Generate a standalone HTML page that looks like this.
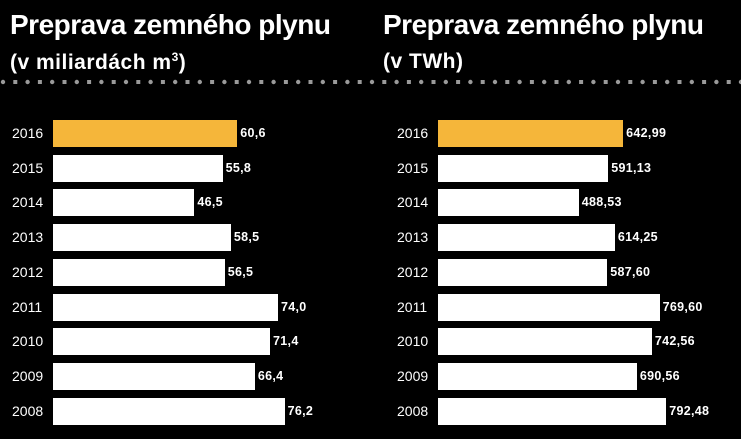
<!DOCTYPE html><html><head><style>
body{margin:0;width:741px;height:439px;background:#000;overflow:hidden;font-family:"Liberation Sans",sans-serif;color:#fff;position:relative}
.t{position:absolute;font-weight:bold;font-size:28px;top:9px;letter-spacing:-0.5px}
.s{position:absolute;font-weight:bold;font-size:21px;top:50px;letter-spacing:0.5px}
.y{position:absolute;font-size:14px;line-height:27px}
.b{position:absolute;height:27px;background:#fff}
.v{position:absolute;font-size:12.5px;font-weight:900;line-height:27px;letter-spacing:0.3px}
</style></head><body>
<div class="t" style="left:10px">Preprava zemného plynu</div>
<div class="s" style="left:10px">(v miliardách m<sup style="font-size:12px">3</sup>)</div>
<div class="t" style="left:383px">Preprava zemného plynu</div>
<div class="s" style="left:383px">(v TWh)</div>
<svg style="position:absolute;left:0;top:76px" width="741" height="12" id="d"></svg>
<div id="c"></div>
<script>
var s='';for(var x=3;x<741;x+=12.3){var i=Math.round((x-3)/12.3);s+=i%2?'<rect x="'+(x-2)+'" y="4" width="4" height="4" fill="#9a9a9a"/>':'<circle cx="'+x+'" cy="6" r="2.2" fill="#9a9a9a"/>';}
document.getElementById('d').innerHTML=s;
var yrs=[2016,2015,2014,2013,2012,2011,2010,2009,2008];
var a=[60.6,55.8,46.5,58.5,56.5,74.0,71.4,66.4,76.2],al=['60,6','55,8','46,5','58,5','56,5','74,0','71,4','66,4','76,2'];
var b=[642.99,591.13,488.53,614.25,587.60,769.60,742.56,690.56,792.48],bl=['642,99','591,13','488,53','614,25','587,60','769,60','742,56','690,56','792,48'];
var h='';
for(var i=0;i<9;i++){var y=120+i*34.7;var col=i==0?'#f5b63a':'#fff';
var w1=a[i]*3.04,w2=b[i]*0.288;
h+='<div class="y" style="left:12px;top:'+y+'px">'+yrs[i]+'</div><div class="b" style="left:53px;top:'+y+'px;width:'+w1+'px;background:'+col+'"></div><div class="v" style="left:'+(56+w1)+'px;top:'+y+'px">'+al[i]+'</div>';
h+='<div class="y" style="left:397px;top:'+y+'px">'+yrs[i]+'</div><div class="b" style="left:438px;top:'+y+'px;width:'+w2+'px;background:'+col+'"></div><div class="v" style="left:'+(441+w2)+'px;top:'+y+'px">'+bl[i]+'</div>';}
document.getElementById('c').innerHTML=h;
</script>
</body></html>
